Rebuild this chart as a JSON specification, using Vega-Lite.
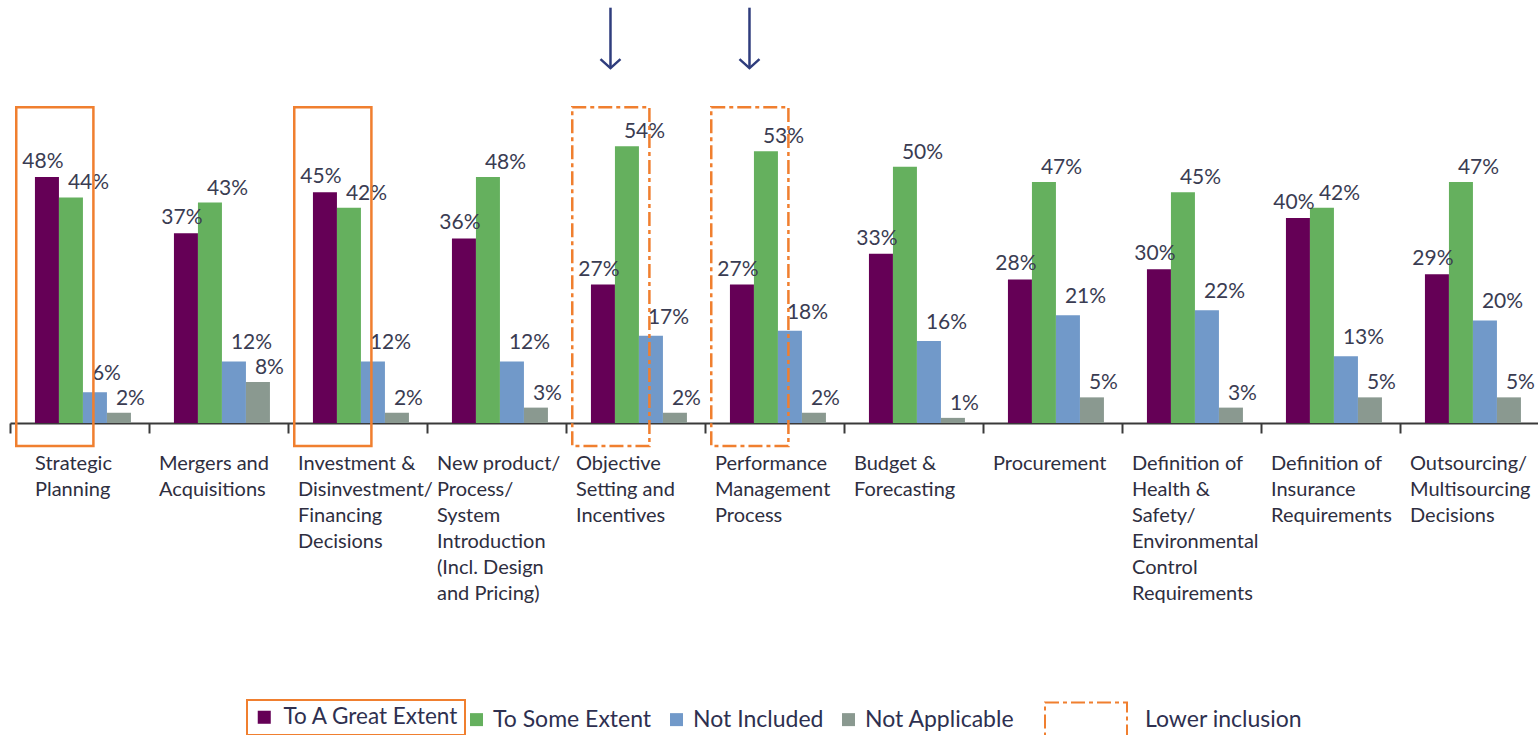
{
  "$schema": "https://vega.github.io/schema/vega-lite/v6.json",
  "width": 1529,
  "height": 423,
  "autosize": {"type": "none"},
  "padding": {"left": 10, "top": 0, "right": 0, "bottom": 312},
  "background": "white",
  "config": {"view": {"stroke": null}, "font": "Lato", "legend": {"strokeWidth": 2}},
  "datasets": {
    "bars": [
      {"cat": "Strategic|Planning", "series": "To A Great Extent", "value": 0.48},
      {"cat": "Strategic|Planning", "series": "To Some Extent", "value": 0.44},
      {"cat": "Strategic|Planning", "series": "Not Included", "value": 0.06},
      {"cat": "Strategic|Planning", "series": "Not Applicable", "value": 0.02},
      {"cat": "Mergers and|Acquisitions", "series": "To A Great Extent", "value": 0.37},
      {"cat": "Mergers and|Acquisitions", "series": "To Some Extent", "value": 0.43},
      {"cat": "Mergers and|Acquisitions", "series": "Not Included", "value": 0.12},
      {"cat": "Mergers and|Acquisitions", "series": "Not Applicable", "value": 0.08},
      {"cat": "Investment &|Disinvestment/|Financing|Decisions", "series": "To A Great Extent", "value": 0.45},
      {"cat": "Investment &|Disinvestment/|Financing|Decisions", "series": "To Some Extent", "value": 0.42},
      {"cat": "Investment &|Disinvestment/|Financing|Decisions", "series": "Not Included", "value": 0.12},
      {"cat": "Investment &|Disinvestment/|Financing|Decisions", "series": "Not Applicable", "value": 0.02},
      {"cat": "New product/|Process/|System|Introduction|(Incl. Design|and Pricing)", "series": "To A Great Extent", "value": 0.36},
      {"cat": "New product/|Process/|System|Introduction|(Incl. Design|and Pricing)", "series": "To Some Extent", "value": 0.48},
      {"cat": "New product/|Process/|System|Introduction|(Incl. Design|and Pricing)", "series": "Not Included", "value": 0.12},
      {"cat": "New product/|Process/|System|Introduction|(Incl. Design|and Pricing)", "series": "Not Applicable", "value": 0.03},
      {"cat": "Objective|Setting and|Incentives", "series": "To A Great Extent", "value": 0.27},
      {"cat": "Objective|Setting and|Incentives", "series": "To Some Extent", "value": 0.54},
      {"cat": "Objective|Setting and|Incentives", "series": "Not Included", "value": 0.17},
      {"cat": "Objective|Setting and|Incentives", "series": "Not Applicable", "value": 0.02},
      {"cat": "Performance|Management|Process", "series": "To A Great Extent", "value": 0.27},
      {"cat": "Performance|Management|Process", "series": "To Some Extent", "value": 0.53},
      {"cat": "Performance|Management|Process", "series": "Not Included", "value": 0.18},
      {"cat": "Performance|Management|Process", "series": "Not Applicable", "value": 0.02},
      {"cat": "Budget &|Forecasting", "series": "To A Great Extent", "value": 0.33},
      {"cat": "Budget &|Forecasting", "series": "To Some Extent", "value": 0.50},
      {"cat": "Budget &|Forecasting", "series": "Not Included", "value": 0.16},
      {"cat": "Budget &|Forecasting", "series": "Not Applicable", "value": 0.01},
      {"cat": "Procurement", "series": "To A Great Extent", "value": 0.28},
      {"cat": "Procurement", "series": "To Some Extent", "value": 0.47},
      {"cat": "Procurement", "series": "Not Included", "value": 0.21},
      {"cat": "Procurement", "series": "Not Applicable", "value": 0.05},
      {"cat": "Definition of|Health &|Safety/|Environmental|Control|Requirements", "series": "To A Great Extent", "value": 0.30},
      {"cat": "Definition of|Health &|Safety/|Environmental|Control|Requirements", "series": "To Some Extent", "value": 0.45},
      {"cat": "Definition of|Health &|Safety/|Environmental|Control|Requirements", "series": "Not Included", "value": 0.22},
      {"cat": "Definition of|Health &|Safety/|Environmental|Control|Requirements", "series": "Not Applicable", "value": 0.03},
      {"cat": "Definition of|Insurance|Requirements", "series": "To A Great Extent", "value": 0.40},
      {"cat": "Definition of|Insurance|Requirements", "series": "To Some Extent", "value": 0.42},
      {"cat": "Definition of|Insurance|Requirements", "series": "Not Included", "value": 0.13},
      {"cat": "Definition of|Insurance|Requirements", "series": "Not Applicable", "value": 0.05},
      {"cat": "Outsourcing/|Multisourcing|Decisions", "series": "To A Great Extent", "value": 0.29},
      {"cat": "Outsourcing/|Multisourcing|Decisions", "series": "To Some Extent", "value": 0.47},
      {"cat": "Outsourcing/|Multisourcing|Decisions", "series": "Not Included", "value": 0.20},
      {"cat": "Outsourcing/|Multisourcing|Decisions", "series": "Not Applicable", "value": 0.05}
    ],
    "boxes": [
      {"cat": "Strategic|Planning", "top": 0.616, "bottom": -0.045, "style": "Higher inclusion"},
      {"cat": "Investment &|Disinvestment/|Financing|Decisions", "top": 0.616, "bottom": -0.045, "style": "Higher inclusion"},
      {"cat": "Objective|Setting and|Incentives", "top": 0.616, "bottom": -0.045, "style": "Lower inclusion"},
      {"cat": "Performance|Management|Process", "top": 0.616, "bottom": -0.045, "style": "Lower inclusion"}
    ],
    "arrows": [
      {"cat": "Objective|Setting and|Incentives", "top": 0.81, "tip": 0.692},
      {"cat": "Performance|Management|Process", "top": 0.81, "tip": 0.692}
    ]
  },
  "layer": [
    {
      "data": {"name": "bars"},
      "mark": {"type": "bar", "strokeWidth": 0},
      "encoding": {
        "x": {
          "field": "cat", "type": "nominal", "sort": null,
          "scale": {
            "domain": ["Strategic|Planning", "Mergers and|Acquisitions", "Investment &|Disinvestment/|Financing|Decisions", "New product/|Process/|System|Introduction|(Incl. Design|and Pricing)", "Objective|Setting and|Incentives", "Performance|Management|Process", "Budget &|Forecasting", "Procurement", "Definition of|Health &|Safety/|Environmental|Control|Requirements", "Definition of|Insurance|Requirements", "Outsourcing/|Multisourcing|Decisions"],
            "paddingInner": 0, "paddingOuter": 0
          },
          "axis": {
            "title": null, "labelAngle": 0,
            "domainColor": "#3a3a3a", "domainWidth": 2,
            "tickColor": "#3a3a3a", "tickWidth": 2, "tickSize": 10, "tickBand": "extent",
            "labelAlign": "left",
            "labelOffset": {"condition": {"test": "datum.value === 'Strategic|Planning'", "value": -45}, "value": -60},
            "labelPadding": 20, "labelBaseline": "top",
            "labelFont": "Lato", "labelFontSize": 20, "labelLineHeight": 26,
            "labelColor": "#2e2e40", "labelLimit": 300, "labelOverlap": false,
            "labelExpr": "split(datum.label, '|')"
          }
        },
        "xOffset": {
          "field": "series", "type": "nominal",
          "scale": {"domain": ["To A Great Extent", "To Some Extent", "Not Included", "Not Applicable"], "paddingInner": 0, "paddingOuter": 0.896, "align": 0.58}
        },
        "y": {"field": "value", "type": "quantitative", "scale": {"domain": [0, 0.825], "nice": false}, "axis": null},
        "fill": {
          "field": "series", "type": "nominal",
          "scale": {"domain": ["To A Great Extent", "To Some Extent", "Not Included", "Not Applicable"], "range": ["#650056", "#65b05e", "#7199c9", "#8a9990"]},
          "legend": {
            "title": null, "values": ["To A Great Extent"], "orient": "none", "legendX": 237, "legendY": 700,
            "padding": 6, "strokeColor": "#f07f2f", "symbolType": "square", "symbolSize": 170, "symbolStrokeWidth": 0,
            "labelFont": "Lato", "labelFontSize": 22.5, "labelColor": "#2e3050", "labelLimit": 300, "labelOffset": 8
          }
        },
        "stroke": {
          "field": "series", "type": "nominal",
          "scale": {"domain": ["To Some Extent", "Not Included", "Not Applicable", "To A Great Extent"], "range": ["#65b05e", "#7199c9", "#8a9990", "#650056"]},
          "legend": {
            "title": null, "values": ["To Some Extent", "Not Included", "Not Applicable"], "orient": "none", "legendX": 455, "legendY": 708,
            "direction": "horizontal", "columns": 3, "columnPadding": 8,
            "padding": 0, "symbolType": "square", "symbolSize": 42, "symbolStrokeWidth": 6.5, "symbolFillColor": "transparent",
            "labelFont": "Lato", "labelFontSize": 23, "labelColor": "#2e3050", "labelLimit": 300, "labelOffset": 5
          }
        }
      }
    },
    {
      "data": {"name": "bars"},
      "transform": [{"filter": "datum.series === 'To A Great Extent'"}],
      "mark": {"type": "text", "align": "center", "baseline": "alphabetic", "dx": -4, "dy": -9, "fontSize": 21, "font": "Lato", "color": "#3a3c52"},
      "encoding": {
        "x": {"field": "cat", "type": "nominal", "sort": null},
        "xOffset": {"field": "series", "type": "nominal"},
        "y": {"field": "value", "type": "quantitative"},
        "text": {"field": "value", "type": "quantitative", "format": ".0%"}
      }
    },
    {
      "data": {"name": "bars"},
      "transform": [{"filter": "datum.series === 'To Some Extent' || datum.series === 'Not Applicable'"}],
      "mark": {"type": "text", "align": "left", "baseline": "alphabetic", "dx": -3, "dy": -8, "fontSize": 21, "font": "Lato", "color": "#3a3c52"},
      "encoding": {
        "x": {"field": "cat", "type": "nominal", "sort": null},
        "xOffset": {"field": "series", "type": "nominal"},
        "y": {"field": "value", "type": "quantitative"},
        "text": {"field": "value", "type": "quantitative", "format": ".0%"}
      }
    },
    {
      "data": {"name": "bars"},
      "transform": [{"filter": "datum.series === 'Not Included'"}],
      "mark": {"type": "text", "align": "left", "baseline": "alphabetic", "dx": -3, "dy": -12, "fontSize": 21, "font": "Lato", "color": "#3a3c52"},
      "encoding": {
        "x": {"field": "cat", "type": "nominal", "sort": null},
        "xOffset": {"field": "series", "type": "nominal"},
        "y": {"field": "value", "type": "quantitative"},
        "text": {"field": "value", "type": "quantitative", "format": ".0%"}
      }
    },
    {
      "data": {"name": "boxes"},
      "transform": [{"filter": "datum.style === 'Higher inclusion'"}],
      "mark": {"type": "rect", "filled": false, "stroke": "#f07f2f", "strokeWidth": 2.5, "clip": false},
      "encoding": {
        "x": {"field": "cat", "type": "nominal", "sort": null, "bandPosition": 0.045},
        "x2": {"field": "cat", "bandPosition": 0.6},
        "y": {"field": "top", "type": "quantitative"},
        "y2": {"field": "bottom"}
      }
    },
    {
      "data": {"name": "boxes"},
      "transform": [{"filter": "datum.style === 'Lower inclusion'"}],
      "mark": {"type": "rect", "filled": false, "stroke": "#f07f2f", "strokeWidth": 2.5, "strokeDash": [14, 4, 4, 4], "clip": false},
      "encoding": {
        "x": {"field": "cat", "type": "nominal", "sort": null, "bandPosition": 0.045},
        "x2": {"field": "cat", "bandPosition": 0.6},
        "y": {"field": "top", "type": "quantitative"},
        "y2": {"field": "bottom"},
        "opacity": {
          "field": "style", "type": "nominal",
          "scale": {"domain": ["Lower inclusion"], "range": [1, 1]},
          "legend": {
            "title": null, "orient": "none", "legendX": 1034, "legendY": 678,
            "padding": 0, "strokeColor": null, "symbolType": "M-1,-0.427H1V0.427H-1Z", "symbolSize": 6724,
            "symbolStrokeColor": "#f07f2f", "symbolStrokeWidth": 2, "symbolFillColor": "transparent", "symbolDash": [14, 4, 4, 4], "symbolOpacity": 1,
            "labelFont": "Lato", "labelFontSize": 23, "labelColor": "#2e3050", "labelLimit": 300, "labelOffset": 17
          }
        }
      }
    },
    {
      "data": {"name": "arrows"},
      "mark": {"type": "rule", "color": "#2f3d7d", "strokeWidth": 2.5, "clip": false},
      "encoding": {
        "x": {"field": "cat", "type": "nominal", "sort": null, "bandPosition": 0.32},
        "y": {"field": "top", "type": "quantitative"},
        "y2": {"field": "tip"}
      }
    },
    {
      "data": {"name": "arrows"},
      "mark": {"type": "point", "shape": "M-1,-0.9L0,0L1,-0.9", "filled": false, "stroke": "#2f3d7d", "strokeWidth": 2.5, "size": 400, "opacity": 1, "clip": false},
      "encoding": {
        "x": {"field": "cat", "type": "nominal", "sort": null, "bandPosition": 0.32},
        "y": {"field": "tip", "type": "quantitative"}
      }
    }
  ]
}
